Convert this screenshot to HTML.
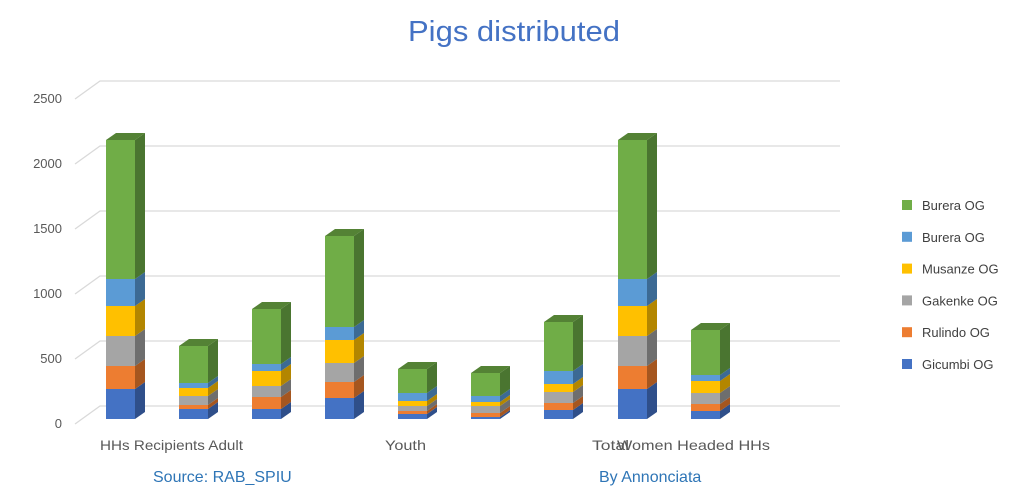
<!DOCTYPE html>
<html><head><meta charset="utf-8"><style>
body{margin:0;background:#fff;}
svg{display:block;font-family:"Liberation Sans",sans-serif;}
</style></head><body>
<svg width="1024" height="500" xmlns="http://www.w3.org/2000/svg">
<rect width="1024" height="500" fill="#fff"/>
<text x="514" y="41" text-anchor="middle" font-size="29" fill="#4472C4" textLength="212" lengthAdjust="spacingAndGlyphs">Pigs distributed</text>
<g stroke="#d9d9d9" stroke-width="1.3" fill="none" id="grid"></g>
<g id="ticks" font-size="13" fill="#595959" text-anchor="end"></g>
<g id="bars"></g>
<g font-size="14" fill="#595959">
<text x="100" y="450" textLength="143" lengthAdjust="spacingAndGlyphs">HHs Recipients Adult</text>
<text x="385" y="450" textLength="41" lengthAdjust="spacingAndGlyphs">Youth</text>
<text x="592" y="450" textLength="37" lengthAdjust="spacingAndGlyphs">Total</text>
<text x="617" y="450" textLength="153" lengthAdjust="spacingAndGlyphs">Women Headed HHs</text>
</g>
<g font-size="16" fill="#2E75B6">
<text x="153" y="482">Source: RAB_SPIU</text>
<text x="599" y="482">By Annonciata</text>
</g>
<g id="legend" font-size="13" fill="#404040"></g>
<script>
var ns="http://www.w3.org/2000/svg";
function el(p,t,a){var e=document.createElementNS(ns,t);for(var k in a)e.setAttribute(k,a[k]);p.appendChild(e);return e;}
var g=document.getElementById('grid'),tk=document.getElementById('ticks');
for(var i=0;i<6;i++){var yb=406-65*i;el(g,'path',{d:'M75 '+(yb+18)+'L100 '+yb+'L840 '+yb});
var t=el(tk,'text',{x:62,y:428-65*i});t.textContent=String(500*i);}
var front=['#4472C4','#ED7D31','#A5A5A5','#FFC000','#5B9BD5','#70AD47'];
var side=['#2F4F8A','#A5561F','#6E6E6E','#B38600','#3C6A94','#4A7530'];
var top_=['#3A64AE','#D06A26','#8F8F8F','#E0A800','#4E88BD','#548235'];
var xs=[106,179,252,325,398,471,544,618,691];
var b=[[389,366,336,306,279,140],[409,405,396,388,383,346],[409,397,386,371,364,309],[398,382,363,340,327,236],[414,411,406,401,393,369],[417,413,406,402,396,373],[410,403,392,384,371,322],[389,366,336,306,279,140],[411,404,393,381,375,330]];
var bg=document.getElementById('bars'),w=29,dx=10,dy=7;
xs.forEach(function(x,j){var prev=419;for(var s=0;s<6;s++){var y=b[j][s];
el(bg,'rect',{x:x,y:y,width:w,height:prev-y,fill:front[s]});
el(bg,'polygon',{points:(x+w)+','+prev+' '+(x+w+dx)+','+(prev-dy)+' '+(x+w+dx)+','+(y-dy)+' '+(x+w)+','+y,fill:side[s]});
prev=y;}
var y=b[j][5];el(bg,'polygon',{points:x+','+y+' '+(x+dx)+','+(y-dy)+' '+(x+w+dx)+','+(y-dy)+' '+(x+w)+','+y,fill:top_[5]});});
var lg=document.getElementById('legend'),names=['Burera OG','Burera OG','Musanze OG','Gakenke OG','Rulindo OG','Gicumbi OG'],lc=['#70AD47','#5B9BD5','#FFC000','#A5A5A5','#ED7D31','#4472C4'];
for(var i=0;i<6;i++){var y=205+31.8*i;el(lg,'rect',{x:902,y:y-5,width:10,height:10,fill:lc[i]});var t=el(lg,'text',{x:922,y:y+5});t.textContent=names[i];}
</script>
</svg>
</body></html>
